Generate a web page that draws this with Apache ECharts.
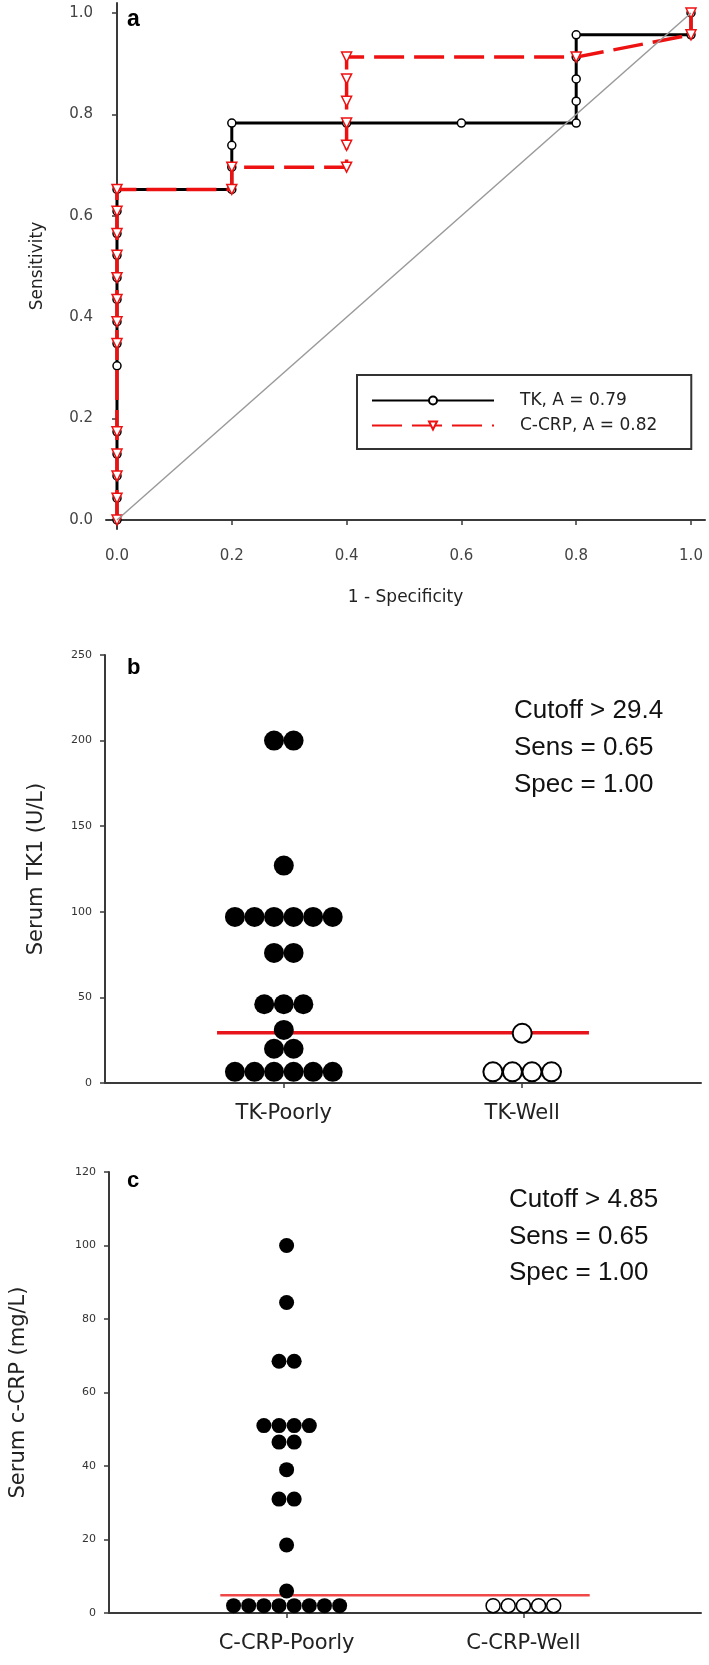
<!DOCTYPE html>
<html>
<head>
<meta charset="utf-8">
<script src="https://cdn.jsdelivr.net/npm/echarts@6/dist/echarts.min.js"></script>
<style>
html,body{margin:0;padding:0;background:#fff;}
#main{width:709px;height:1665px;}
</style>
</head>
<body>
<div id="main"></div>
<script>
// ---------- Panel a: ROC data ----------
const rocTicks = [0, 0.2, 0.4, 0.6, 0.8, 1.0];
const tkFPR  = [0,0,0,0,0,0,0,0,0,0,0,0,0,0, 0.2,0.2,0.2,0.2, 0.4,0.6,0.8,0.8,0.8,0.8,0.8, 1.0,1.0];
const tkTPR  = [0,0.043,0.087,0.130,0.174,0.304,0.348,0.391,0.435,0.478,0.522,0.565,0.609,0.652, 0.652,0.696,0.739,0.783, 0.783,0.783,0.783,0.826,0.870,0.913,0.957, 0.957,1.0];
const crpFPR = [0,0,0,0,0,0,0,0,0,0,0,0,0, 0.2,0.2, 0.4,0.4,0.4,0.4,0.4,0.4, 0.8, 1.0,1.0];
const crpTPR = [0,0.043,0.087,0.130,0.174,0.348,0.391,0.435,0.478,0.522,0.565,0.609,0.652, 0.652,0.696, 0.696,0.739,0.783,0.826,0.870,0.913, 0.913, 0.957,1.0];
const refLine = [[0,0],[1,1]];
const tkName = 'TK, A = 0.79';
const crpName = 'C-CRP, A = 0.82';

// ---------- Panel b: serum TK1 ----------
const catsB = ['TK-Poorly', 'TK-Well'];
const tkPoorly = [200,200,127,97,97,97,97,97,97,76,76,46,46,46,31,20,20,6.5,6.5,6.5,6.5,6.5,6.5];
const tkWell = [29,6.5,6.5,6.5,6.5];
const cutoffB = 29.4;
const ticksB = [0,50,100,150,200,250];
const textB = ['Cutoff > 29.4', 'Sens = 0.65', 'Spec = 1.00'];

// ---------- Panel c: serum c-CRP ----------
const catsC = ['C-CRP-Poorly', 'C-CRP-Well'];
const crpPoorly = [100,84.5,68.5,68.5,51,51,51,51,46.5,46.5,39,31,31,18.5,6,2,2,2,2,2,2,2,2];
const crpWell = [2,2,2,2,2];
const cutoffC = 4.85;
const ticksC = [0,20,40,60,80,100,120];
const textC = ['Cutoff > 4.85', 'Sens = 0.65', 'Spec = 1.00'];

// ---------- helpers ----------
function zip(xs, ys){ return xs.map((x,i)=>[x, ys[i]]); }
function swarm(vals, pos, step){
  const counts = {}; vals.forEach(v => counts[v] = (counts[v]||0) + 1);
  const idx = {};
  return vals.map(v => {
    idx[v] = (idx[v] === undefined) ? 0 : idx[v] + 1;
    return [pos + (idx[v] - (counts[v]-1)/2) * step, v];
  });
}

const axisCol = '#3a3a3a';
const chart = echarts.init(document.getElementById('main'), null, {renderer:'canvas'});

function annot(lines, x, y0, dy){
  return lines.map((t,i)=>({
    type:'text', left:x, top:y0 + i*dy,
    style:{text:t, font:'26px "Liberation Sans"', fill:'#111', verticalAlign:'middle'}
  }));
}

const option = {
  backgroundColor:'#fff',
  animation:false,
  grid:[
    {left:106, top:3, width:599, height:526},
    {left:105, top:655, width:596, height:428},
    {left:105, top:1172, width:596, height:441}
  ],
  xAxis:[
    {gridIndex:0, type:'value', min:-0.01916, max:1.02439,
     splitLine:{show:false},
     axisLine:{lineStyle:{color:axisCol, width:2}},
     axisTick:{customValues:rocTicks, length:5, lineStyle:{color:axisCol, width:1.5}},
     axisLabel:{customValues:rocTicks, formatter:v=>v.toFixed(1), margin:20,
       fontFamily:'DejaVu Sans', fontSize:15, color:'#444'},
     name:'1 - Specificity', nameLocation:'middle', nameGap:60,
     nameTextStyle:{fontFamily:'DejaVu Sans', fontSize:17, color:'#222'}},
    {gridIndex:1, type:'value', min:0.25, max:2.75,
     splitLine:{show:false},
     axisLine:{lineStyle:{color:axisCol, width:2}},
     axisTick:{customValues:[1,2], length:5, lineStyle:{color:axisCol, width:1.5}},
     axisLabel:{customValues:[1,2], formatter:v=>catsB[Math.round(v)-1], margin:20,
       fontFamily:'DejaVu Sans', fontSize:21, color:'#222'}},
    {gridIndex:2, type:'value', min:0.25, max:2.75,
     splitLine:{show:false},
     axisLine:{lineStyle:{color:axisCol, width:2}},
     axisTick:{customValues:[1,2], length:5, lineStyle:{color:axisCol, width:1.5}},
     axisLabel:{customValues:[1,2], formatter:v=>catsC[Math.round(v)-1], margin:20,
       fontFamily:'DejaVu Sans', fontSize:21, color:'#222'}}
  ],
  yAxis:[
    {gridIndex:0, type:'value', min:-0.01775, max:1.01972,
     splitLine:{show:false},
     axisLine:{show:true, lineStyle:{color:axisCol, width:2}},
     axisTick:{show:true, customValues:rocTicks, length:5, lineStyle:{color:axisCol, width:1.5}},
     axisLabel:{customValues:rocTicks, formatter:v=>v.toFixed(1), margin:13,
       fontFamily:'DejaVu Sans', fontSize:15, color:'#444'},
     name:'Sensitivity', nameLocation:'middle', nameGap:60,
     nameTextStyle:{fontFamily:'DejaVu Sans', fontSize:17, color:'#222'}},
    {gridIndex:1, type:'value', min:0, max:250,
     splitLine:{show:false},
     axisLine:{show:true, lineStyle:{color:axisCol, width:2}},
     axisTick:{show:true, customValues:ticksB, length:5, lineStyle:{color:axisCol, width:1.5}},
     axisLabel:{customValues:ticksB, margin:13, fontFamily:'DejaVu Sans', fontSize:11, color:'#333'},
     name:'Serum TK1 (U/L)', nameLocation:'middle', nameGap:58,
     nameTextStyle:{fontFamily:'DejaVu Sans', fontSize:21, color:'#222'}},
    {gridIndex:2, type:'value', min:0, max:120,
     splitLine:{show:false},
     axisLine:{show:true, lineStyle:{color:axisCol, width:2}},
     axisTick:{show:true, customValues:ticksC, length:5, lineStyle:{color:axisCol, width:1.5}},
     axisLabel:{customValues:ticksC, margin:13, fontFamily:'DejaVu Sans', fontSize:11, color:'#333'},
     name:'Serum c-CRP (mg/L)', nameLocation:'middle', nameGap:80,
     nameTextStyle:{fontFamily:'DejaVu Sans', fontSize:21, color:'#222'}}
  ],
  legend:{
    data:[tkName, crpName], orient:'vertical', left:357, top:375,
    itemWidth:122, itemHeight:10, itemGap:8,
    padding:[17,34,15,14], borderColor:'#333', borderWidth:2, backgroundColor:'#fff',
    textStyle:{fontFamily:'DejaVu Sans', fontSize:17, color:'#222', padding:[0,0,0,21]}
  },
  series:[
    {name:tkName, type:'line', xAxisIndex:0, yAxisIndex:0, data:zip(tkFPR, tkTPR),
     symbol:'circle', symbolSize:8, showAllSymbol:true,
     lineStyle:{color:'#000', width:3},
     itemStyle:{color:'#fff', borderColor:'#000', borderWidth:1.5}, z:2},
    {name:crpName, type:'line', xAxisIndex:0, yAxisIndex:0, data:zip(crpFPR, crpTPR),
     symbol:'triangle', symbolRotate:180, symbolSize:10, showAllSymbol:true,
     lineStyle:{color:'#ee1111', width:3.5, type:[30,10]},
     itemStyle:{color:'#fff', borderColor:'#ee1111', borderWidth:1.5}, z:3},
    {name:'ref', type:'line', xAxisIndex:0, yAxisIndex:0, data:refLine, symbol:'none',
     lineStyle:{color:'#9a9a9a', width:1.5}, z:4, silent:true},

    {name:'cutB', type:'line', xAxisIndex:1, yAxisIndex:1, symbol:'none',
     data:[[1-0.28, cutoffB],[2+0.28, cutoffB]], lineStyle:{color:'#e8141c', width:3.5}, z:1},
    {name:'tkPoorly', type:'scatter', xAxisIndex:1, yAxisIndex:1, data:swarm(tkPoorly,1,0.082),
     symbolSize:20, itemStyle:{color:'#000', opacity:1}, z:3},
    {name:'tkWell', type:'scatter', xAxisIndex:1, yAxisIndex:1, data:swarm(tkWell,2,0.082),
     symbolSize:19, itemStyle:{color:'#fff', borderColor:'#000', borderWidth:2, opacity:1}, z:3},

    {name:'cutC', type:'line', xAxisIndex:2, yAxisIndex:2, symbol:'none',
     data:[[1-0.28, cutoffC],[2+0.28, cutoffC]], lineStyle:{color:'#f04848', width:2.5}, z:1},
    {name:'crpPoorly', type:'scatter', xAxisIndex:2, yAxisIndex:2, data:swarm(crpPoorly,1,0.064),
     symbolSize:15, itemStyle:{color:'#000', opacity:1}, z:3},
    {name:'crpWell', type:'scatter', xAxisIndex:2, yAxisIndex:2, data:swarm(crpWell,2,0.064),
     symbolSize:14, itemStyle:{color:'#fff', borderColor:'#000', borderWidth:1.5, opacity:1}, z:3}
  ],
  graphic:[
    {type:'text', left:127, top:8, style:{text:'a', font:'bold 23px "Liberation Sans"', fill:'#000'}},
    {type:'text', left:127, top:657, style:{text:'b', font:'bold 22px "Liberation Sans"', fill:'#000'}},
    {type:'text', left:127, top:1170, style:{text:'c', font:'bold 22px "Liberation Sans"', fill:'#000'}}
  ].concat(annot(textB, 514, 698, 37)).concat(annot(textC, 509, 1187, 36.5))
};
chart.setOption(option);
</script>
</body>
</html>
